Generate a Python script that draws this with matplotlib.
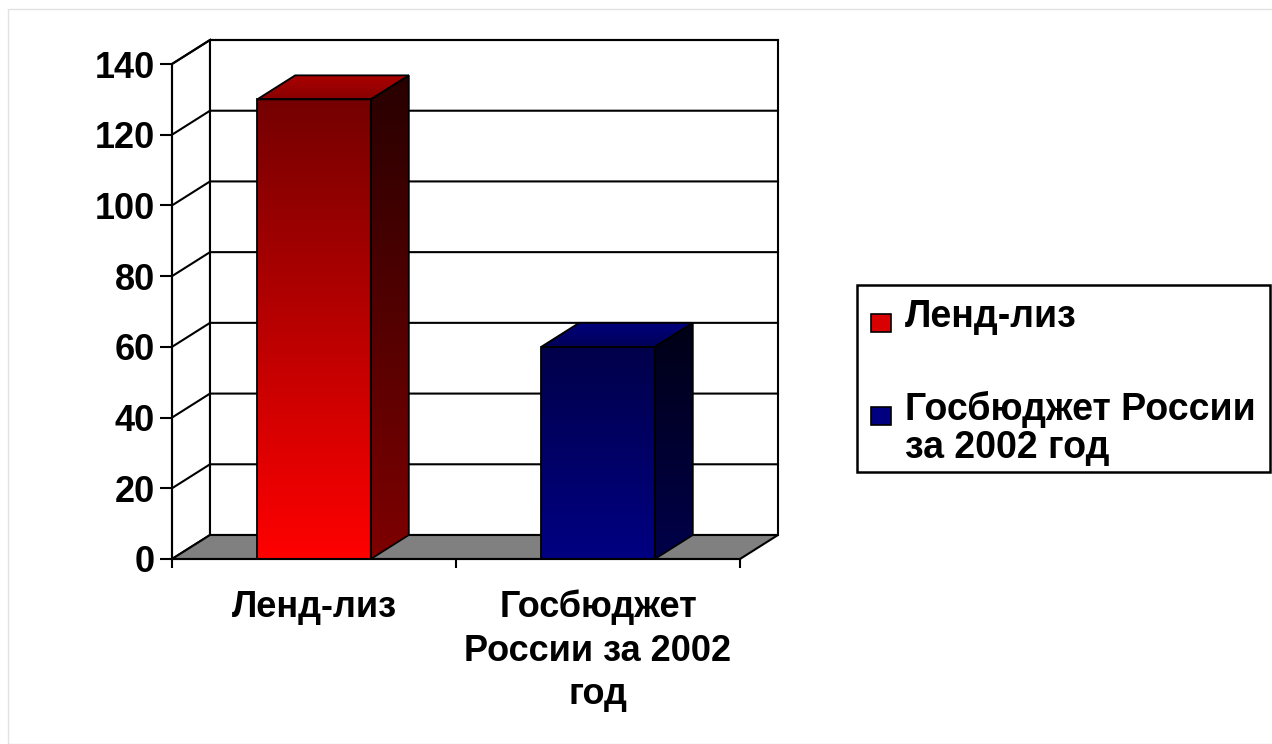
import numpy as np
import matplotlib
matplotlib.use('Agg')
import matplotlib.pyplot as plt
from matplotlib.patches import Polygon, Rectangle
from matplotlib.colors import LinearSegmentedColormap

plt.rcParams['font.family'] = ['Liberation Sans', 'DejaVu Sans']
plt.rcParams['font.weight'] = 'bold'

# data
categories = ['Ленд-лиз', 'Госбюджет\nРоссии за 2002\nгод']
values = [130, 60]
legend_labels = ['Ленд-лиз', 'Госбюджет России\nза 2002 год']
yticks = [0, 20, 40, 60, 80, 100, 120, 140]

# colours: (front bottom, front top, side bottom, side top, top front, top back, legend)
bar_colors = [
    ('#ff0000', '#740000', '#7e0000', '#280000', '#8a0000', '#aa0000', '#d80000'),
    ('#000082', '#00004a', '#00004a', '#000016', '#000058', '#00007c', '#000080'),
]

W, H = 1272, 744
# pixel geometry of the front plane
X0, Y0 = 172, 559          # origin of the front axes in pixels
PX_CAT = 284.0             # pixels per category
PX_VAL = 495.0 / 140       # pixels per value unit
DX = 38 / PX_CAT           # depth offset (categories)
DY = 24 / PX_VAL           # depth offset (value units)
BAR_W = 0.40

fig = plt.figure(figsize=(W / 100, H / 100), dpi=100)
ax_l, ax_r, ax_t, ax_b = 100, 800, 20, 580
ax = fig.add_axes([ax_l / W, 1 - ax_b / H, (ax_r - ax_l) / W, (ax_b - ax_t) / H])
xlim = ((ax_l - X0) / PX_CAT, (ax_r - X0) / PX_CAT)
ylim = ((Y0 - ax_b) / PX_VAL, (Y0 - ax_t) / PX_VAL)
ax.patch.set_alpha(0)

ncat = len(categories)
top = yticks[-1]

# walls and floor
ax.add_patch(Polygon([(0, 0), (DX, DY), (DX, top + DY), (0, top)], closed=True,
                     facecolor='white', edgecolor='black', lw=1.5, zorder=1))
ax.add_patch(Rectangle((DX, DY), ncat, top, facecolor='white', edgecolor='black', lw=1.5, zorder=1))
ax.add_patch(Polygon([(0, 0), (ncat, 0), (ncat + DX, DY), (DX, DY)], closed=True,
                     facecolor='#808080', edgecolor='black', lw=1.5, zorder=2))
for t in yticks[1:]:
    ax.plot([0, DX, ncat + DX], [t, t + DY, t + DY], color='black', lw=1.5, zorder=1.5)


def grad_fill(verts, c_lo, c_hi, z):
    poly = Polygon(verts, closed=True, facecolor='none', edgecolor='black', lw=1.3, zorder=z + 0.1)
    ax.add_patch(poly)
    xs, ys = zip(*verts)
    cmap = LinearSegmentedColormap.from_list('g', [c_lo, c_hi])
    im = ax.imshow(np.linspace(0, 1, 256).reshape(-1, 1), cmap=cmap, origin='lower',
                   extent=(min(xs), max(xs), min(ys), max(ys)), aspect='auto',
                   interpolation='bilinear', zorder=z)
    im.set_clip_path(poly)


for i, v in enumerate(values):
    fb, ft, sb, st, tf, tb, _ = bar_colors[i]
    x0 = i + 0.5 - BAR_W / 2
    x1 = x0 + BAR_W
    grad_fill([(x0, 0), (x1, 0), (x1, v), (x0, v)], fb, ft, 3)
    grad_fill([(x1, 0), (x1 + DX, DY), (x1 + DX, v + DY), (x1, v)], sb, st, 3)
    grad_fill([(x0, v), (x1, v), (x1 + DX, v + DY), (x0 + DX, v + DY)], tf, tb, 3)

ax.set_xlim(*xlim)
ax.set_ylim(*ylim)

# axes
for s in ['top', 'right']:
    ax.spines[s].set_visible(False)
ax.spines['left'].set_position(('data', 0))
ax.spines['left'].set_bounds(0, top)
ax.spines['bottom'].set_position(('data', 0))
ax.spines['bottom'].set_bounds(0, ncat)
for s in ['left', 'bottom']:
    ax.spines[s].set_linewidth(1.5)
    ax.spines[s].set_zorder(5)

ax.set_yticks(yticks)
ax.set_yticklabels([str(t) for t in yticks])
ax.tick_params(axis='y', direction='out', length=8.5, width=1.5, labelsize=26, pad=4)
ax.set_xticks(range(ncat + 1))
ax.set_xticklabels([])
ax.tick_params(axis='x', which='major', direction='out', length=6.5, width=1.5)
ax.set_xticks([i + 0.5 for i in range(ncat)], minor=True)
ax.set_xticklabels(categories, minor=True)
ax.tick_params(axis='x', which='minor', length=0, labelsize=26, pad=22)
for lbl in ax.get_xticklabels(minor=True):
    lbl.set_linespacing(1.32)
for lbl in ax.get_yticklabels() + ax.get_xticklabels(minor=True):
    lbl.set_fontweight('bold')


# legend drawn by hand so the square sits on the first line
def fx(px):
    return px / W


def fy(py):
    return 1 - py / H


fig.patches.append(Rectangle((fx(857), fy(472)), fx(1270) - fx(857), fy(285) - fy(472),
                             transform=fig.transFigure, facecolor='white', edgecolor='black', lw=1.8))
leg_rows = [327, 420]
line_step = 38
for i, lab in enumerate(legend_labels):
    base = leg_rows[i]
    fig.patches.append(Rectangle((fx(871), fy(base + 5)), fx(891) - fx(871), fy(base - 13) - fy(base + 5),
                                 transform=fig.transFigure, facecolor=bar_colors[i][6],
                                 edgecolor='black', lw=1.2))
    for k, line in enumerate(lab.split('\n')):
        fig.text(fx(905), fy(base + k * line_step), line, fontsize=27, fontweight='bold',
                 ha='left', va='baseline')

# faint outer frame
fig.patches.append(Rectangle((fx(8), 0), 1, fy(9), transform=fig.transFigure,
                             facecolor='none', edgecolor='#e2e2e2', lw=1))

fig.savefig('out.png', dpi=100)
